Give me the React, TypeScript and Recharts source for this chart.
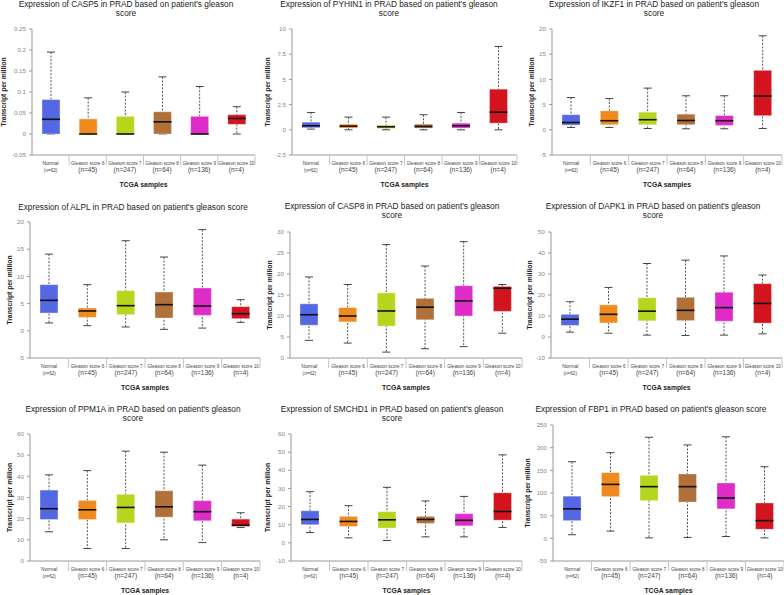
import React from "react";
import { Bar, Cell, ComposedChart, XAxis, YAxis } from "recharts";

const groups = [
  "Normal",
  "Gleason score 6",
  "Gleason score 7",
  "Gleason score 8",
  "Gleason score 9",
  "Gleason score 10",
];
const groupN = ["(n=62)", "(n=45)", "(n=247)", "(n=64)", "(n=136)", "(n=4)"];

// each row: [min, q1, median, q3, max] per group
const casp5 = [
  [0, 0, 0.035, 0.082, 0.195],
  [0, 0, 0, 0.036, 0.086],
  [0, 0, 0, 0.042, 0.1],
  [0, 0, 0.029, 0.053, 0.136],
  [0, 0, 0, 0.042, 0.113],
  [0, 0.023, 0.037, 0.046, 0.065],
];
const casp5Ticks = [-0.05, 0, 0.05, 0.1, 0.15, 0.2, 0.25];

const pyhin1 = [
  [0.07, 0.2, 0.4, 0.76, 1.72],
  [0, 0.17, 0.36, 0.56, 1.26],
  [0, 0.13, 0.3, 0.46, 1.26],
  [0, 0.17, 0.33, 0.56, 1.49],
  [0, 0.17, 0.4, 0.66, 1.72],
  [0, 0.66, 1.75, 4.03, 8.27],
];
const pyhin1Ticks = [-2.5, 0, 2.5, 5, 7.5, 10];

const ikzf1 = [
  [0.46, 0.93, 1.45, 3.0, 6.4],
  [0.46, 1.0, 1.8, 3.77, 6.2],
  [0.26, 1.0, 2.0, 3.5, 8.27],
  [0.2, 1.0, 1.85, 3.1, 6.75],
  [0.2, 0.86, 1.8, 2.84, 6.75],
  [0.26, 2.8, 6.7, 11.8, 18.65],
];
const ikzf1Ticks = [-5, 0, 5, 10, 15, 20];

const alpl = [
  [1.44, 3.27, 5.6, 8.48, 14.1],
  [0.94, 2.48, 3.64, 4.19, 8.48],
  [0.7, 2.97, 4.62, 7.37, 16.56],
  [0.27, 2.35, 4.8, 7.13, 13.56],
  [0.5, 2.84, 4.56, 7.87, 18.6],
  [1.56, 2.23, 3.15, 4.44, 5.72],
];
const alplTicks = [-5, 0, 5, 10, 15, 20];

const casp8 = [
  [4.2, 7.8, 10.3, 12.9, 19.3],
  [3.55, 8.6, 10.0, 12.0, 17.5],
  [1.4, 7.6, 11.2, 15.5, 27.0],
  [2.2, 9.1, 12.1, 14.2, 21.9],
  [2.7, 10.0, 13.6, 17.2, 27.7],
  [5.9, 11.1, 16.6, 17.05, 17.5],
];
const casp8Ticks = [0, 5, 10, 15, 20, 25, 30];

const dapk1 = [
  [2.3, 5.5, 8.5, 10.8, 16.8],
  [1.8, 6.7, 10.8, 15.3, 23.6],
  [0.9, 7.7, 12.3, 18.7, 35],
  [0.7, 7.8, 12.7, 18.9, 36.6],
  [0.9, 7.5, 14.0, 21.3, 38.6],
  [1.5, 6.6, 16.0, 25.4, 29.5],
];
const dapk1Ticks = [-10, 0, 10, 20, 30, 40, 50];

const ppm1a = [
  [13.8, 19.6, 24.7, 33.5, 40.7],
  [5.9, 19.6, 24.2, 28.6, 42.7],
  [5.9, 18.0, 25.3, 31.5, 51.9],
  [10.0, 20.7, 25.6, 33.2, 51.4],
  [8.7, 19.0, 23.3, 28.5, 45.3],
  [15.8, 16.3, 16.9, 19.8, 22.8],
];
const ppm1aTicks = [0, 10, 20, 30, 40, 50, 60];

const smchd1 = [
  [5.7, 10.0, 12.9, 17.7, 28.2],
  [2.75, 9.0, 11.8, 14.6, 20.5],
  [1.3, 8.1, 12.7, 17.2, 30.6],
  [3.3, 10.7, 12.9, 14.6, 23.1],
  [3.3, 9.4, 12.4, 16.1, 25.6],
  [8.5, 12.5, 17.3, 27.6, 48.5],
];
const smchd1Ticks = [-10, 0, 10, 20, 30, 40, 50, 60];

const fbp1 = [
  [8, 39, 65, 93, 169],
  [16, 92, 119, 145, 189],
  [1, 83, 114, 139, 223],
  [2, 80, 114, 142, 206],
  [4, 65, 89, 122, 224],
  [1, 20, 39, 78, 158],
];
const fbp1Ticks = [-50, 0, 50, 100, 150, 200, 250];

const BOX_COLORS = ["#5568e3", "#f08a1e", "#b5d61c", "#b07038", "#df2bc8", "#d3141e"];
const FONT = "'Liberation Sans', Arial, sans-serif";
const BAR = 18;

const panels = [
  { gene: "CASP5", stats: casp5, ticks: casp5Ticks, oneLine: false, titleX: 126, titleTop: 0, axisX: 32, right: 255, plotTop: 29, plotBottom: 155, labelGap: 28 },
  { gene: "PYHIN1", stats: pyhin1, ticks: pyhin1Ticks, oneLine: false, titleX: 389, titleTop: 0, axisX: 292, right: 517, plotTop: 29, plotBottom: 155, labelGap: 24 },
  { gene: "IKZF1", stats: ikzf1, ticks: ikzf1Ticks, oneLine: false, titleX: 654, titleTop: 0, axisX: 552, right: 782, plotTop: 29, plotBottom: 155, labelGap: 20 },
  { gene: "ALPL", stats: alpl, ticks: alplTicks, oneLine: true, titleX: 133, titleTop: 203, axisX: 30, right: 260, plotTop: 222, plotBottom: 358, labelGap: 20 },
  { gene: "CASP8", stats: casp8, ticks: casp8Ticks, oneLine: false, titleX: 392, titleTop: 202, axisX: 290, right: 522, plotTop: 232, plotBottom: 358, labelGap: 20 },
  { gene: "DAPK1", stats: dapk1, ticks: dapk1Ticks, oneLine: false, titleX: 653, titleTop: 202, axisX: 551, right: 782, plotTop: 232, plotBottom: 358, labelGap: 21 },
  { gene: "PPM1A", stats: ppm1a, ticks: ppm1aTicks, oneLine: false, titleX: 133, titleTop: 405, axisX: 30, right: 260, plotTop: 434, plotBottom: 561, labelGap: 20 },
  { gene: "SMCHD1", stats: smchd1, ticks: smchd1Ticks, oneLine: false, titleX: 392, titleTop: 405, axisX: 291, right: 522, plotTop: 434, plotBottom: 561, labelGap: 23 },
  { gene: "FBP1", stats: fbp1, ticks: fbp1Ticks, oneLine: true, titleX: 651, titleTop: 405, axisX: 553, right: 784, plotTop: 425, plotBottom: 561, labelGap: 25 },
];

function Whisker(props: any) {
  const { x, y, width, height } = props;
  const cx = x + width / 2;
  return (
    <g>
      <line x1={cx} x2={cx} y1={y} y2={y + height} stroke="#555" strokeWidth={1} strokeDasharray="2 1.5" />
      <line x1={cx - 4} x2={cx + 4} y1={y} y2={y} stroke="#444" strokeWidth={1} />
      <line x1={cx - 4} x2={cx + 4} y1={y + height} y2={y + height} stroke="#444" strokeWidth={1} />
    </g>
  );
}

function BoxRect(props: any) {
  const { x, y, width, height, fill } = props;
  return <rect x={x} y={y} width={width} height={height} fill={fill} stroke="#ffffff" strokeOpacity={0.35} strokeWidth={1} />;
}

function Median(props: any) {
  const { x, y, width } = props;
  return <line x1={x} x2={x + width} y1={y} y2={y} stroke="#111" strokeWidth={1.6} />;
}

function GroupTick(props: any) {
  const { x, y, payload, index } = props;
  const half = payload && payload.offset ? payload.offset : 18.5;
  const first = index === 0;
  return (
    <g fontFamily={FONT}>
      <line x1={x + half} x2={x + half} y1={y} y2={y + 10} stroke="#c4c4c4" strokeWidth={1} />
      <text x={x} y={y + 9.5} textAnchor="middle" fontSize={first ? 5 : 4.6} fill="#444">
        {payload.value}
      </text>
      <text x={x} y={y + 16.5} textAnchor="middle" fontSize={first ? 4.6 : 6.5} fill="#444">
        {groupN[index]}
      </text>
    </g>
  );
}

function BoxPanel({ p }: { p: any }) {
  const rows = groups.map((g, i) => ({
    group: g,
    min: p.stats[i][0],
    q1: p.stats[i][1],
    med: p.stats[i][2],
    q3: p.stats[i][3],
    max: p.stats[i][4],
  }));
  const lo = p.ticks[0];
  const hi = p.ticks[p.ticks.length - 1];
  const plotW = p.right - p.axisX;
  const plotH = p.plotBottom - p.plotTop;

  return (
    <>
      <div
        style={{
          position: "absolute",
          left: p.titleX - 130,
          top: p.titleTop - 0.5,
          width: 260,
          textAlign: "center",
          fontFamily: FONT,
          fontSize: 8.3,
          lineHeight: "9.8px",
          color: "#222",
          whiteSpace: "nowrap",
        }}
      >
        <div>
          Expression of {p.gene} in PRAD based on patient's {p.oneLine ? "gleason score" : "gleason"}
        </div>
        {!p.oneLine && <div>score</div>}
      </div>
      <div style={{ position: "absolute", left: p.axisX - 34, top: p.plotTop - 4 }}>
        <ComposedChart
          width={plotW + 36}
          height={plotH + 4 + 34}
          data={rows}
          margin={{ top: 4, right: 2, bottom: 0, left: 0 }}
          style={{ fontFamily: FONT }}
        >
          <XAxis
            xAxisId="main"
            dataKey="group"
            interval={0}
            height={34}
            tickSize={0}
            tickMargin={0}
            tickLine={false}
            axisLine={{ stroke: "#999" }}
            tick={<GroupTick />}
            label={{
              value: "TCGA samples",
              position: "insideBottom",
              offset: 2,
              style: { fontSize: 6.8, fontWeight: "bold", fill: "#222", fontFamily: FONT },
            }}
          />
          <XAxis xAxisId="box" dataKey="group" hide height={0} />
          <XAxis xAxisId="med" dataKey="group" hide height={0} />
          <YAxis
            type="number"
            domain={[lo, hi]}
            ticks={p.ticks}
            interval={0}
            width={34}
            tickSize={3}
            tickMargin={3}
            axisLine={{ stroke: "#999" }}
            tickLine={{ stroke: "#999" }}
            tick={{ fontSize: 6.2, fill: "#888", fontFamily: FONT }}
            label={{
              value: "Transcript per million",
              angle: -90,
              position: "insideLeft",
              offset: 34 - p.labelGap,
              style: { textAnchor: "middle", fontSize: 6.8, fontWeight: "bold", fill: "#222", fontFamily: FONT },
            }}
          />
          <Bar
            xAxisId="main"
            dataKey={(d: any) => [d.min, d.max]}
            barSize={BAR}
            shape={<Whisker />}
            isAnimationActive={false}
          />
          <Bar
            xAxisId="box"
            dataKey={(d: any) => [d.q1, d.q3]}
            barSize={BAR}
            shape={<BoxRect />}
            isAnimationActive={false}
          >
            {rows.map((r, i) => (
              <Cell key={r.group} fill={BOX_COLORS[i]} />
            ))}
          </Bar>
          <Bar
            xAxisId="med"
            dataKey={(d: any) => [lo, d.med]}
            barSize={BAR}
            shape={<Median />}
            isAnimationActive={false}
          />
        </ComposedChart>
      </div>
    </>
  );
}

export default function App() {
  return (
    <div
      style={{
        position: "absolute",
        left: 0,
        top: 0,
        width: 784,
        height: 595,
        background: "#fff",
        overflow: "hidden",
      }}
    >
      {panels.map((p) => (
        <BoxPanel key={p.gene} p={p} />
      ))}
    </div>
  );
}
